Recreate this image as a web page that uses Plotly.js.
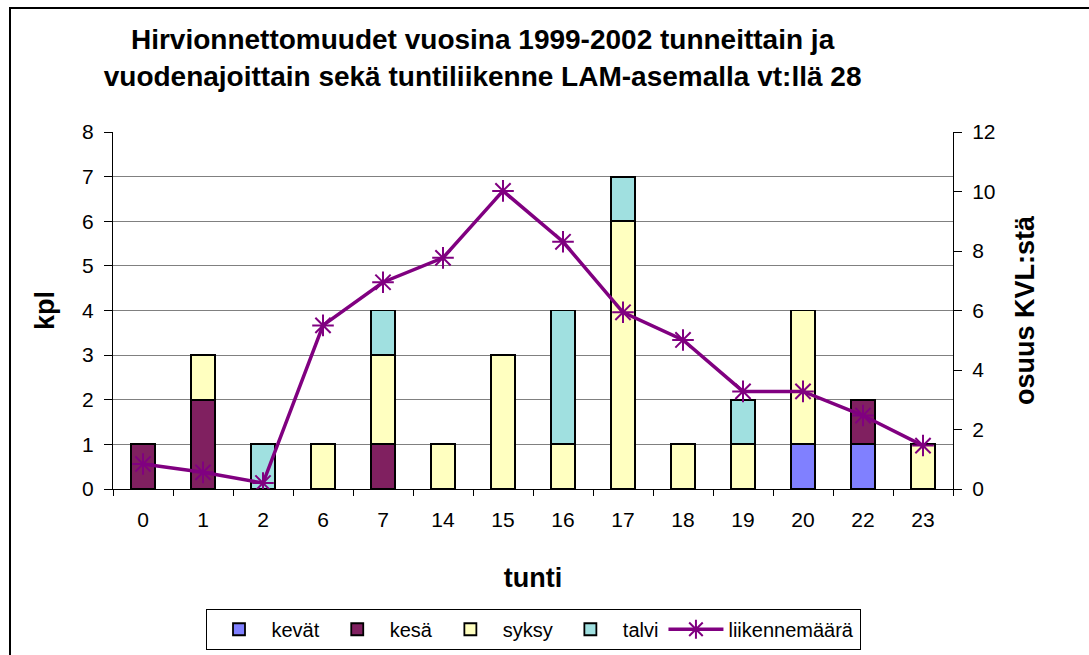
<!DOCTYPE html>
<html>
<head>
<meta charset="utf-8">
<script src="https://cdn.plot.ly/plotly-3.0.1.min.js"></script>
<style>
html,body{margin:0;padding:0;background:#fff;overflow:hidden;}
#chart{width:1089px;height:655px;}
#frame{position:absolute;left:9px;top:7px;width:1200px;height:800px;border:2px solid #000;pointer-events:none;}
</style>
</head>
<body>
<div id="chart"></div>
<div id="frame"></div>
<script>
const hours = ["0","1","2","6","7","14","15","16","17","18","19","20","22","23"];
const kevat = [0,0,0,0,0,0,0,0,0,0,0,1,1,0];
const kesa  = [1,2,0,0,1,0,0,0,0,0,0,0,1,0];
const syksy = [0,1,0,1,2,1,3,1,6,1,1,3,0,1];
const talvi = [0,0,1,0,1,0,0,3,1,0,1,0,0,0];
const liikennemaara = [0.84,0.56,0.2,5.5,6.95,7.77,10.02,8.31,5.94,5.01,3.28,3.28,2.47,1.46];

const font = "Arial, 'Liberation Sans', sans-serif";
function barTrace(name, y, color){
  return {type:'bar', name:name, x:hours, y:y, marker:{color:color, line:{color:'#000', width:1.8}}, hoverinfo:'y'};
}
const data = [
  barTrace('kevät', kevat, '#8080FF'),
  barTrace('kesä', kesa, '#802060'),
  barTrace('syksy', syksy, '#FFFFC0'),
  barTrace('talvi', talvi, '#A0E0E0'),
  {type:'scatter', mode:'lines+markers', name:'liikennemäärä', x:hours, y:liikennemaara, yaxis:'y2',
   line:{color:'#800080', width:3.5},
   marker:{symbol:'asterisk', size:18, color:'#800080', line:{color:'#800080', width:2}}}
];
const layout = {
  width:1089, height:655,
  margin:{l:113, r:136, t:132, b:166},
  paper_bgcolor:'#fff', plot_bgcolor:'#fff',
  barmode:'stack', bargap:0.6,
  font:{family:font, size:21, color:'#000'},
  title:{text:'<b>Hirvionnettomuudet vuosina 1999-2002 tunneittain ja<br>vuodenajoittain sekä tuntiliikenne LAM-asemalla vt:llä 28</b>',
         font:{family:font, size:28, color:'#000'}, x:0.44, xanchor:'center', xref:'paper', y:0.925, yanchor:'top', yref:'container'},
  xaxis:{type:'category', categoryorder:'array', categoryarray:hours, range:[-0.5,13.5], autorange:false,
         tickson:'boundaries', ticks:'outside', ticklen:6, tickcolor:'#000', ticklabelstandoff:12,
         showline:true, linecolor:'#000', linewidth:1, showgrid:false, zeroline:false,
         tickfont:{size:21}, title:{text:'<b>tunti</b>', font:{size:27}, standoff:37}},
  yaxis:{range:[0,8], dtick:1, ticks:'outside', ticklen:8, tickcolor:'#000', showline:true, linecolor:'#000', linewidth:1,
         ticklabelstandoff:6,
         showgrid:true, gridcolor:'#808080', gridwidth:1, zeroline:false, tickfont:{size:21},
         title:{text:'<b>kpl</b>', font:{size:27}, standoff:19}},
  yaxis2:{overlaying:'y', side:'right', range:[0,12], dtick:2, ticks:'outside', ticklen:8, tickcolor:'#000', showline:true,
          ticklabelstandoff:6,
          linecolor:'#000', linewidth:1, showgrid:false, zeroline:false, tickfont:{size:21},
          title:{text:'<b>osuus KVL:stä</b>', font:{size:27}, standoff:20}},
  showlegend:true,
  legend:{orientation:'h', x:0.5, xanchor:'center', xref:'paper', y:0.008, yanchor:'bottom', yref:'container',
          traceorder:'normal', font:{size:20}, bordercolor:'#000', borderwidth:1, bgcolor:'#fff', itemwidth:55}
};
Plotly.newPlot('chart', data, layout, {displayModeBar:false, staticPlot:true});
</script>
</body>
</html>
